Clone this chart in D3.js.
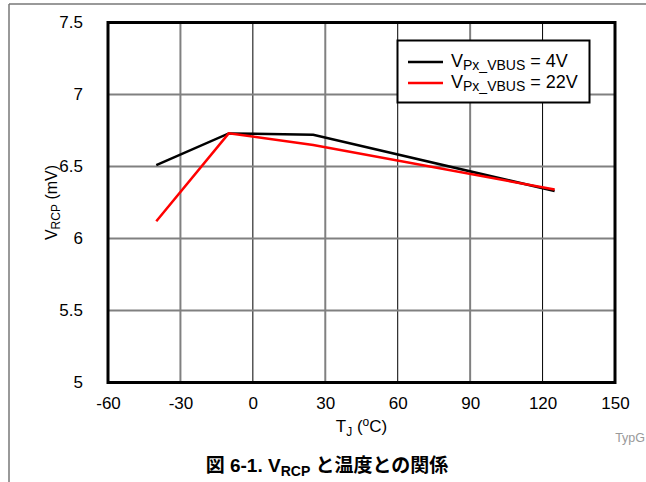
<!DOCTYPE html>
<html>
<head>
<meta charset="utf-8">
<script src="https://cdn.jsdelivr.net/npm/d3@7"></script>
<style>
    body { margin: 0; background: #fff; }
    text { font-family: "Liberation Sans", Arial, sans-serif; }
</style>
</head>
<body>
<script>
"use strict";

// temperatures (deg C) and V_RCP (mV)
const temps = [-40, -10, 25, 125];
const vrcp4V = [6.51, 6.73, 6.72, 6.33];
const vrcp22V = [6.12, 6.73, 6.65, 6.34];
const seriesNames = ["4V", "22V"];
const seriesColors = ["#000000", "#ff0000"];

const xTicks = [-60, -30, 0, 30, 60, 90, 120, 150];
const yTicks = [5, 5.5, 6, 6.5, 7, 7.5];

const measurements = {
    width: 646,
    height: 482,
    left: 108,
    right: 615,
    top: 22.5,
    bottom: 382.5
};

const svg = d3.select("body").append("svg")
    .attr("width", measurements.width)
    .attr("height", measurements.height);

// outer page frame lines
svg.append("line")
    .attr("x1", 9).attr("x2", 9).attr("y1", 4).attr("y2", measurements.height)
    .attr("stroke", "#777").attr("stroke-width", 1.5);
svg.append("line")
    .attr("x1", 9).attr("x2", measurements.width).attr("y1", 4).attr("y2", 4)
    .attr("stroke", "#777").attr("stroke-width", 1.5);

const scaleX = d3.scaleLinear()
    .domain([-60, 150])
    .range([measurements.left, measurements.right]);

const scaleY = d3.scaleLinear()
    .domain([5, 7.5])
    .range([measurements.bottom, measurements.top]);

// grid
const grid = svg.append("g");
xTicks.slice(1, -1).forEach((t, i) => {
    grid.append("line")
        .attr("x1", scaleX(t)).attr("x2", scaleX(t))
        .attr("y1", measurements.top).attr("y2", measurements.bottom)
        .attr("stroke", i % 2 === 0 ? "#808080" : "#000")
        .attr("stroke-width", i % 2 === 0 ? 2 : 1);
});
yTicks.slice(1, -1).forEach((t) => {
    grid.append("line")
        .attr("x1", measurements.left).attr("x2", measurements.right)
        .attr("y1", scaleY(t)).attr("y2", scaleY(t))
        .attr("stroke", "#808080")
        .attr("stroke-width", 2);
});

// series lines
const lineGen = d3.line()
    .x((d) => scaleX(d[0]))
    .y((d) => scaleY(d[1]));

[vrcp4V, vrcp22V].forEach((vals, i) => {
    svg.append("path")
        .datum(temps.map((t, j) => [t, vals[j]]))
        .attr("d", lineGen)
        .attr("fill", "none")
        .attr("stroke", seriesColors[i])
        .attr("stroke-width", 2.5);
});

// plot frame
svg.append("rect")
    .attr("x", measurements.left).attr("y", measurements.top)
    .attr("width", measurements.right - measurements.left)
    .attr("height", measurements.bottom - measurements.top)
    .attr("fill", "none").attr("stroke", "#000").attr("stroke-width", 3);

// axes (labels only, tick marks hidden); plain hyphen for negatives
const xAxis = d3.axisBottom(scaleX).tickValues(xTicks).tickSize(0).tickPadding(14)
    .tickFormat((d) => String(d));
svg.append("g")
    .attr("transform", `translate(0,${measurements.bottom})`)
    .call(xAxis)
    .call((g) => g.select(".domain").remove())
    .selectAll("text")
    .attr("font-size", 17).attr("font-family", "Liberation Sans, Arial, sans-serif").attr("fill", "#000");

const yAxis = d3.axisLeft(scaleY).tickValues(yTicks).tickSize(0).tickPadding(25)
    .tickFormat((d) => String(d));
svg.append("g")
    .attr("transform", `translate(${measurements.left},0)`)
    .call(yAxis)
    .call((g) => g.select(".domain").remove())
    .selectAll("text")
    .attr("font-size", 17).attr("font-family", "Liberation Sans, Arial, sans-serif").attr("fill", "#000");

// axis titles
const xTitle = svg.append("text")
    .attr("x", (measurements.left + measurements.right) / 2)
    .attr("y", 432)
    .attr("text-anchor", "middle")
    .attr("font-size", 17);
xTitle.append("tspan").text("T");
xTitle.append("tspan").attr("font-size", 12).attr("dy", 4).text("J");
xTitle.append("tspan").attr("dy", -4).text(" (");
xTitle.append("tspan").attr("font-size", 12).attr("dy", -6).text("o");
xTitle.append("tspan").attr("dy", 6).text("C)");

const yTitle = svg.append("text")
    .attr("transform", `translate(57,${(measurements.top + measurements.bottom) / 2}) rotate(-90)`)
    .attr("text-anchor", "middle")
    .attr("font-size", 16);
yTitle.append("tspan").text("V");
yTitle.append("tspan").attr("font-size", 12).attr("dy", 3).text("RCP");
yTitle.append("tspan").attr("dy", -3).text(" (mV)");

// legend
const legend = svg.append("g");
legend.append("rect")
    .attr("x", 397.5).attr("y", 40.5).attr("width", 192).attr("height", 62)
    .attr("fill", "#fff").attr("stroke", "#000").attr("stroke-width", 2);
seriesNames.forEach((name, i) => {
    const y = 62 + i * 21;
    legend.append("line")
        .attr("x1", 408).attr("x2", 443).attr("y1", y).attr("y2", y)
        .attr("stroke", seriesColors[i]).attr("stroke-width", 2.5);
    const t = legend.append("text")
        .attr("x", 451).attr("y", y + 5)
        .attr("font-size", 18);
    t.append("tspan").text("V");
    t.append("tspan").attr("font-size", 14).attr("dy", 3).text("Px_VBUS");
    t.append("tspan").attr("dy", -3).text(" = " + name);
});

// corner tag
svg.append("text")
    .attr("x", 645).attr("y", 442)
    .attr("text-anchor", "end")
    .attr("font-size", 12.5)
    .attr("fill", "#999")
    .text("TypG");

// caption
const caption = svg.append("text")
    .attr("x", 327).attr("y", 472)
    .attr("text-anchor", "middle")
    .attr("font-size", 19)
    .attr("font-weight", "bold")
    .style("font-family", "'Liberation Sans', 'Noto Sans CJK JP', sans-serif");
caption.append("tspan").text("図 6-1. V");
caption.append("tspan").attr("font-size", 14).attr("dy", 4).text("RCP");
caption.append("tspan").attr("dy", -4).text(" と温度との関係");
</script>
</body>
</html>
